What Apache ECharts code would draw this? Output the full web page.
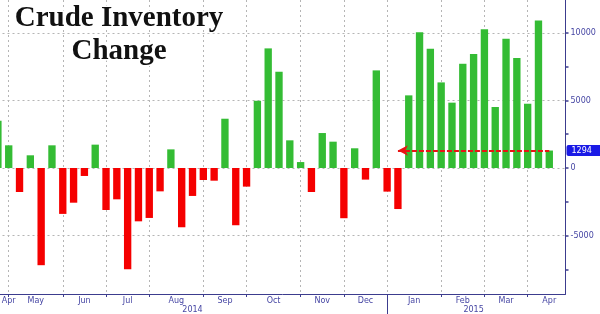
<!DOCTYPE html>
<html>
<head>
<meta charset="utf-8">
<script src="https://cdn.jsdelivr.net/npm/echarts@6/dist/echarts.min.js"></script>
<style>html,body{margin:0;padding:0;background:#fff}#c{width:600px;height:314px}</style>
</head>
<body>
<div id="c"></div>
<script>
// Weekly crude inventory change (thousand barrels), week-ending dates
const weeks = [
  '2014-04-25','2014-05-02','2014-05-09','2014-05-16','2014-05-23','2014-05-30',
  '2014-06-06','2014-06-13','2014-06-20','2014-06-27',
  '2014-07-04','2014-07-11','2014-07-18','2014-07-25',
  '2014-08-01','2014-08-08','2014-08-15','2014-08-22','2014-08-29',
  '2014-09-05','2014-09-12','2014-09-19','2014-09-26',
  '2014-10-03','2014-10-10','2014-10-17','2014-10-24','2014-10-31',
  '2014-11-07','2014-11-14','2014-11-21','2014-11-28',
  '2014-12-05','2014-12-12','2014-12-19','2014-12-26',
  '2015-01-02','2015-01-09','2015-01-16','2015-01-23','2015-01-30',
  '2015-02-06','2015-02-13','2015-02-20','2015-02-27',
  '2015-03-06','2015-03-13','2015-03-20','2015-03-27',
  '2015-04-03','2015-04-10','2015-04-17'
];
const changes = [
  3500, 1680, -1780, 940, -7200, 1680,
  -3400, -2570, -590, 1730,
  -3110, -2320, -7500, -3950,
  -3700, -1730, 1380, -4390, -2070,
  -890, -940, 3650, -4240,
  -1380, 4980, 8860, 7130, 2050,
  440, -1780, 2590, 1950,
  -3720, 1460, -860, 7230,
  -1750, -3040, 5380, 10050, 8840,
  6340, 4840, 7720, 8440,
  10270, 4520, 9580, 8150,
  4760, 10930, 1294
];
const monthNames = ['Jan','Feb','Mar','Apr','May','Jun','Jul','Aug','Sep','Oct','Nov','Dec'];
const yTickValues = [-7500, -5000, -2500, 0, 2500, 5000, 7500, 10000];
const yLabelValues = [-5000, 0, 5000, 10000];
const arrowFromWeek = '2015-01-09';
const titleText = 'Crude Inventory\nChange';

// ---- derived axis helpers ----
const nBands = weeks.length + 1;             // one empty slot after the last week
const nSlots = nBands * 2 + 1;               // half-band slots (slot 2i+1 = centre of week i)
const slotOf = i => 2 * i + 1;
const monthOf = d => +d.slice(5, 7) - 1;
const yearOf = d => d.slice(0, 4);

const monthStarts = [];
for (let i = 1; i < weeks.length; i++) if (monthOf(weeks[i]) !== monthOf(weeks[i - 1])) monthStarts.push(i);
const boundarySlots = new Set(monthStarts.map(slotOf));

const monthSlots = new Array(nSlots).fill('');
monthSlots[slotOf(monthStarts[0])] = monthNames[monthOf(weeks[0])];
for (let k = 0; k < monthStarts.length; k++) {
  const a = slotOf(monthStarts[k]);
  const b = k + 1 < monthStarts.length ? slotOf(monthStarts[k + 1]) : slotOf(nBands);
  monthSlots[Math.floor((a + b) / 2)] = monthNames[monthOf(weeks[monthStarts[k]])];
}
let yearStart = -1;
for (let i = 1; i < weeks.length; i++) if (yearOf(weeks[i]) !== yearOf(weeks[i - 1])) yearStart = i;
const yearSlot = slotOf(yearStart);
const yearSlots = new Array(nSlots).fill('');
yearSlots[Math.floor((1 + yearSlot) / 2)] = yearOf(weeks[0]);
yearSlots[Math.floor((yearSlot + nSlots - 1) / 2)] = yearOf(weeks[weeks.length - 1]);

const GREEN = '#34bc34', RED = '#f50000';
const AXIS = '#3c3c8e', LABEL = '#4545a3';
const GRID = { color: '#b5b5b5', type: [2, 3], width: 1 };
const last = changes[changes.length - 1];
const Y_MIN = -9333, Y_MAX = 12444;

const chart = echarts.init(document.getElementById('c'), null, { renderer: 'canvas' });
chart.setOption({
  animation: false,
  backgroundColor: '#fff',
  title: {
    text: titleText,
    left: 119, top: 2, padding: 0, textAlign: 'center',
    textStyle: {
      fontFamily: 'Liberation Serif', fontWeight: 'bold', fontSize: 29,
      lineHeight: 33, color: '#111', textBorderColor: '#fff', textBorderWidth: 3
    }
  },
  grid: { left: -7.5, right: 34.5, top: 0, bottom: 20, outerBoundsMode: 'none', containLabel: false },
  xAxis: [
    { type: 'category', data: weeks.concat(['']), show: false, boundaryGap: true },
    {
      type: 'category', data: monthSlots, boundaryGap: false, position: 'bottom',
      axisLine: { onZero: false, lineStyle: { color: AXIS, width: 1 } },
      axisTick: { interval: i => boundarySlots.has(i), length: 3, lineStyle: { color: AXIS } },
      axisLabel: { interval: 0, margin: 3, fontSize: 8, fontFamily: 'DejaVu Sans', color: LABEL },
      splitLine: { show: true, interval: i => boundarySlots.has(i), lineStyle: GRID }
    },
    {
      type: 'category', data: yearSlots, boundaryGap: false, position: 'bottom',
      axisLine: { show: false, onZero: false },
      axisTick: { interval: i => i === yearSlot, length: 20, lineStyle: { color: AXIS } },
      axisLabel: { interval: 0, margin: 12, fontSize: 8, fontFamily: 'DejaVu Sans', color: LABEL },
      splitLine: { show: false }
    }
  ],
  yAxis: [
    {
      type: 'value', position: 'right', min: Y_MIN, max: Y_MAX,
      axisLine: { show: true, lineStyle: { color: AXIS, width: 1 } },
      axisTick: { show: true, customValues: yTickValues, length: 3, lineStyle: { color: AXIS, width: 1.5 } },
      axisLabel: { customValues: yLabelValues, margin: 5, fontSize: 8, fontFamily: 'DejaVu Sans', color: LABEL,
        formatter: v => String(v) },
      splitLine: { show: false }
    },
    {
      type: 'value', position: 'right', min: Y_MIN, max: Y_MAX,
      axisLine: { show: false },
      axisTick: { show: false, customValues: yLabelValues },
      axisLabel: { show: false, customValues: yLabelValues },
      splitLine: { show: true, lineStyle: GRID }
    }
  ],
  series: [{
    type: 'bar', xAxisIndex: 0, yAxisIndex: 0, barWidth: '68%',
    data: changes.map(v => ({ value: v, itemStyle: { color: v >= 0 ? GREEN : RED } })),
    markLine: {
      silent: true, animation: false, symbol: ['none', 'none'],
      data: [
        [
          { coord: [arrowFromWeek, last], symbol: 'arrow', symbolSize: [8, 10] },
          { coord: [weeks[weeks.length - 1], last], symbol: 'none' }
        ],
        {
          yAxis: last, symbol: 'none',
          lineStyle: { color: 'rgba(0,0,0,0)', width: 0 },
          label: {
            show: true, position: 'end', distance: 1, formatter: String(last),
            color: '#fff', backgroundColor: '#1a1ae6', padding: [2, 12, 1, 5], borderRadius: 2,
            fontSize: 8, fontFamily: 'DejaVu Sans'
          }
        }
      ],
      lineStyle: { color: '#e81414', type: [5, 2], width: 2 },
      label: { show: false }
    }
  }]
});
</script>
</body>
</html>
